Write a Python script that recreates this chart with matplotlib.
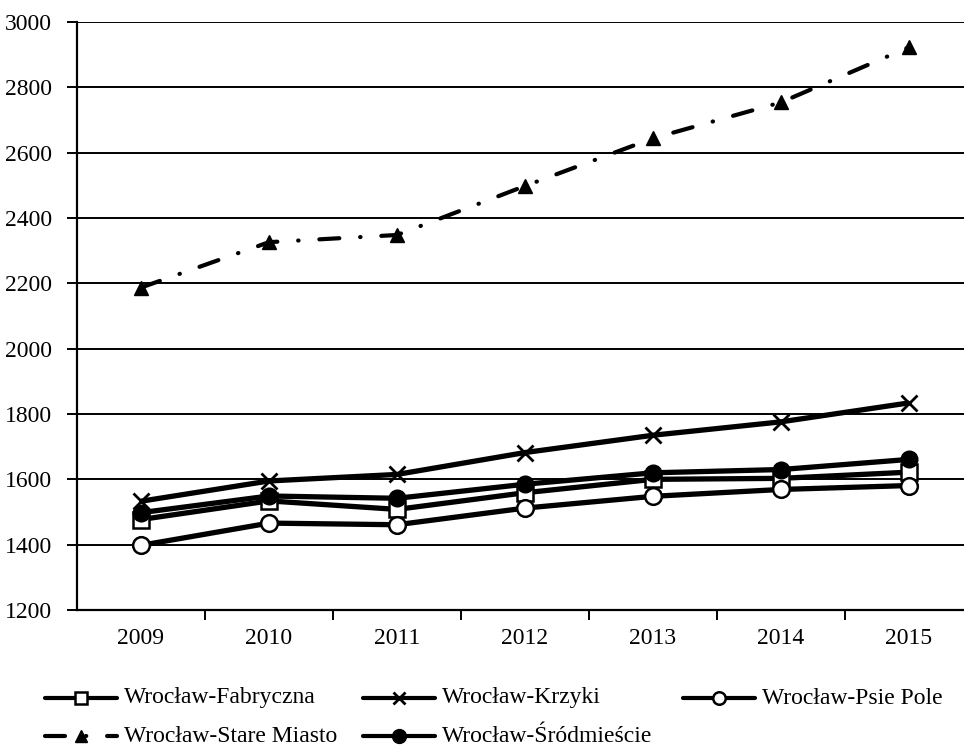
import numpy as np
import matplotlib
matplotlib.use("Agg")
import matplotlib.pyplot as plt
from matplotlib.lines import Line2D

# values
years = ["2009", "2010", "2011", "2012", "2013", "2014", "2015"]
fabryczna = [1477, 1534, 1508, 1559, 1600, 1603, 1622]
krzyki = [1533, 1595, 1615, 1682, 1735, 1776, 1834]
psie_pole = [1398, 1466, 1461, 1512, 1548, 1569, 1581]
stare_miasto = [2187, 2326, 2348, 2498, 2644, 2754, 2923]
srodmiescie = [1498, 1549, 1542, 1585, 1620, 1630, 1661]
names = ["Wrocław-Fabryczna", "Wrocław-Krzyki", "Wrocław-Psie Pole",
         "Wrocław-Stare Miasto", "Wrocław-Śródmieście"]

plt.rcParams["font.family"] = ["Liberation Serif", "DejaVu Serif"]
plt.rcParams["font.size"] = 17

W, H = 964, 749
fig = plt.figure(figsize=(W / 100, H / 100), dpi=100)
# axes runs past the right edge like in the reference
ax = fig.add_axes([77 / W, 1 - 610 / H, 896 / W, 588 / H])

x = np.arange(len(years))
lw = 3.8
ms = 11
dash = (4.8, 5.0, 0.1, 5.0)

styles = [
    dict(marker="s", mfc="white", mec="black", mew=1.8, ms=ms),
    dict(marker="x", mec="black", mew=2.0, ms=ms + 1),
    dict(marker="o", mfc="white", mec="black", mew=1.8, ms=ms + 1),
    dict(marker="^", mfc="black", mec="black", ms=ms - 1),
    dict(marker="o", mfc="black", mec="black", ms=ms + 1),
]
series = [fabryczna, krzyki, psie_pole, stare_miasto, srodmiescie]

for i, (vals, st) in enumerate(zip(series, styles)):
    if i == 3:
        ax.plot(x, vals, color="black", lw=3.0, dashes=dash,
                dash_capstyle="round", zorder=3, **st)
    else:
        ax.plot(x, vals, color="black", lw=lw, solid_capstyle="butt",
                zorder=3, **st)

ax.set_xlim(-0.5, 6.5)
ax.set_ylim(1200, 3000)
ax.set_yticks(np.arange(1200, 3001, 200))
ax.yaxis.grid(True, color="black", lw=1.4)
ax.set_axisbelow(True)
ax.set_xticks(x)
ax.set_xticklabels(years)
ax.set_xticks(np.arange(0.5, 6.5, 1), minor=True)
ax.tick_params(axis="x", which="major", length=0, pad=13)
ax.tick_params(axis="x", which="minor", length=7, width=1.4, direction="out")
ax.tick_params(axis="y", length=7, width=1.4, direction="out", pad=11)
for s in ["top", "right"]:
    ax.spines[s].set_visible(False)
for s in ["left", "bottom"]:
    ax.spines[s].set_linewidth(1.6)

# manual legend laid out like the reference
legend_pos = [(45, 698), (363, 698), (683, 698), (45, 736), (363, 736)]
leg_ms = [8, 8, 9, 8, 10]
for i, (px, py) in enumerate(legend_pos):
    fx0, fx1 = px / W, (px + 72) / W
    fy = 1 - py / H
    st = dict(styles[i])
    st["ms"] = leg_ms[i]
    if i == 3:
        ln = Line2D([fx0, fx1], [fy, fy], color="black", lw=3.0,
                    dashes=(4.8, 5.0, 0.1, 5.0), dash_capstyle="round",
                    transform=fig.transFigure)
    else:
        ln = Line2D([fx0, fx1], [fy, fy], color="black", lw=3.0,
                    solid_capstyle="round", transform=fig.transFigure)
    mk = Line2D([(fx0 + fx1) / 2], [fy], ls="none",
                transform=fig.transFigure, color="black", **st)
    fig.add_artist(ln)
    fig.add_artist(mk)
    fig.text(fx1 + 7 / W, fy, names[i], ha="left", va="center", fontsize=17)

fig.savefig("out.png", dpi=100)
